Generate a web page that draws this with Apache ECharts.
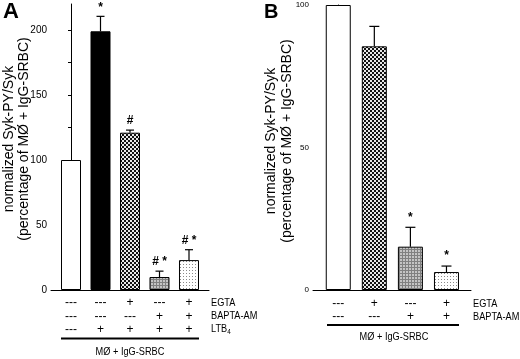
<!DOCTYPE html>
<html><head><meta charset="utf-8">
<script src="https://cdn.jsdelivr.net/npm/echarts@6/dist/echarts.min.js"></script>
<style>html,body{margin:0;padding:0;background:#fff}#c{width:520px;height:359px}</style>
</head><body><div id="c"></div>
<script>
// ---------- data ----------
const valuesA = [100, 199, 121, 10, 23];
const errorsA = [0, 11.5, 2, 4.5, 8];
const marksA  = ['', '*', '#', '# *', '# *'];
const egtaA   = ['---', '---', '+', '---', '+'];
const baptaA  = ['---', '---', '---', '+', '+'];
const ltb4A   = ['---', '+', '+', '+', '+'];

const valuesB = [100, 85.5, 15.2, 6.3];
const errorsB = [0, 7, 6.8, 2.1];
const marksB  = ['', '', '*', '*'];
const egtaB   = ['---', '+', '---', '+'];
const baptaB  = ['---', '---', '+', '+'];

const yTicksA  = [0, 25, 50, 75, 100, 125, 150, 175, 200];
const yLabelsA = [0, 50, 100, 150, 200];
const yTicksB  = [0, 25, 50, 75, 100];
const yLabelsB = [0, 50, 100];

const rowNamesA = ['EGTA', 'BAPTA-AM', 'LTB{s|4}'];
const rowNamesB = ['EGTA', 'BAPTA-AM'];
const groupLabel = 'MØ + IgG-SRBC';
const yTitle1 = 'normalized Syk-PY/Syk';
const yTitle2 = '(percentage of MØ + IgG-SRBC)';

// ---------- styles ----------
function pat(w, h, draw) {
  const c = document.createElement('canvas'); c.width = w; c.height = h;
  const g = c.getContext('2d'); draw(g); return { image: c, repeat: 'repeat' };
}
const FILL = {
  white: '#ffffff',
  black: '#000000',
  checker: pat(4, 4, g => { g.fillStyle = '#e8e8e8'; g.fillRect(0,0,4,4); g.fillStyle = '#111'; g.fillRect(0,0,2,2); g.fillRect(2,2,2,2); }),
  grid: pat(3, 3, g => { g.fillStyle = '#c4c4c4'; g.fillRect(0,0,3,3); g.fillStyle = '#808080'; g.fillRect(0,0,3,1); g.fillRect(0,0,1,3); }),
  dots: pat(3, 3, g => { g.fillStyle = '#ffffff'; g.fillRect(0,0,3,3); g.fillStyle = '#8a8a8a'; g.fillRect(0,0,1,1); })
};
const fillsA = ['white', 'black', 'checker', 'grid', 'dots'];
const fillsB = ['white', 'checker', 'grid', 'dots'];
const FONT = 'Arial, "Liberation Sans", Helvetica, sans-serif';

function barData(vals, fills) {
  return vals.map((v, i) => ({ value: [i, v], itemStyle: { color: FILL[fills[i]] } }));
}
function errSeries(idx, vals, errs, marks, cap, gap) {
  return {
    type: 'custom', xAxisIndex: idx, yAxisIndex: idx, z: 5, silent: true,
    data: vals.map((v, i) => [i, v, errs[i]]),
    renderItem(params, api) {
      const i = api.value(0), v = api.value(1), e = api.value(2);
      const p0 = api.coord([i, v]), p1 = api.coord([i, v + e]);
      const ch = [];
      if (e > 0) {
        ch.push({ type: 'line', shape: { x1: p0[0], y1: p0[1], x2: p1[0], y2: p1[1] }, style: { stroke: '#000', lineWidth: 1.2 } });
        ch.push({ type: 'line', shape: { x1: p1[0] - cap, y1: p1[1], x2: p1[0] + cap, y2: p1[1] }, style: { stroke: '#000', lineWidth: 1.2 } });
      }
      const m = marks[params.dataIndex];
      if (m) ch.push({ type: 'text', x: p1[0], y: p1[1] - gap, style: { text: m, align: 'center', verticalAlign: 'bottom', fontSize: 12, fontWeight: 'bold', fontFamily: FONT, fill: '#000' } });
      return { type: 'group', children: ch };
    }
  };
}
function tableSeries(idx, rows, rowY) {
  return {
    type: 'custom', xAxisIndex: idx, yAxisIndex: idx, silent: true, clip: false,
    data: rows[0].map((_, i) => [i, 0]),
    renderItem(params, api) {
      const x = api.coord([api.value(0), 0])[0];
      return { type: 'group', children: rows.map((r, k) => ({
        type: 'text', x: x, y: rowY[k],
        style: { text: r[params.dataIndex], align: 'center', verticalAlign: 'middle', fontSize: 12, fontFamily: FONT, fill: '#000' }
      })) };
    }
  };
}
function yAxis(idx, max, ticks, labels, fs) {
  return {
    type: 'value', gridIndex: idx, min: 0, max: max,
    axisLine: { show: true, lineStyle: { color: '#000', width: 1 } },
    axisTick: { show: true, length: 3, customValues: ticks, lineStyle: { color: '#000' } },
    axisLabel: { customValues: labels, color: '#000', fontSize: fs, fontFamily: FONT, margin: 4 },
    splitLine: { show: false }
  };
}
function xAxis(idx, min, max) {
  return {
    type: 'value', gridIndex: idx, min: min, max: max,
    axisLine: { show: true, onZero: false, lineStyle: { color: '#000', width: 1 } },
    axisTick: { show: false }, axisLabel: { show: false }, splitLine: { show: false }
  };
}
function rotText(x, y, t) {
  return { type: 'text', x: x, y: y, rotation: Math.PI / 2,
    style: { text: t, align: 'center', verticalAlign: 'middle', fontSize: 14, fontFamily: FONT, fill: '#000' } };
}
function label(x, y, t, opts) {
  return { type: 'text', x: x, y: y, scaleX: 0.8, scaleY: 1,
    style: Object.assign({ text: t, align: 'left', verticalAlign: 'middle', fontSize: 11.5, fontFamily: FONT, fill: '#000',
      rich: { s: { fontSize: 8, fontFamily: FONT, verticalAlign: 'bottom', padding: [6, 0, 0, 0] } } }, opts || {}) };
}

const chart = echarts.init(document.getElementById('c'), null, { renderer: 'canvas' });
chart.setOption({
  animation: false,
  grid: [
    { left: 51, top: 4, width: 158, height: 286 },
    { left: 313, top: 5, width: 158, height: 285 }
  ],
  xAxis: [xAxis(0, -0.678, 4.678), xAxis(1, -0.70, 3.68)],
  yAxis: [yAxis(0, 220, yTicksA, yLabelsA, 10), yAxis(1, 100, yTicksB, yLabelsB, 8)],
  series: [
    { type: 'bar', xAxisIndex: 0, yAxisIndex: 0, barWidth: 20, data: barData(valuesA, fillsA),
      itemStyle: { borderColor: '#000', borderWidth: 1 } },
    { type: 'bar', xAxisIndex: 1, yAxisIndex: 1, barWidth: 25, data: barData(valuesB, fillsB),
      itemStyle: { borderColor: '#000', borderWidth: 1 } },
    errSeries(0, valuesA, errorsA, marksA, 4, 3),
    errSeries(1, valuesB, errorsB, marksB, 5, 4),
    tableSeries(0, [egtaA, baptaA, ltb4A], [303, 317, 330]),
    tableSeries(1, [egtaB, baptaB], [304, 317])
  ],
  graphic: [
    { type: 'text', x: 3, y: 1, style: { text: 'A', fontSize: 22, fontWeight: 'bold', fontFamily: FONT, fill: '#000' } },
    { type: 'text', x: 264, y: 2, style: { text: 'B', fontSize: 20, fontWeight: 'bold', fontFamily: FONT, fill: '#000' } },
    rotText(9, 139, yTitle1), rotText(24, 139, yTitle2),
    rotText(271, 141, yTitle1), rotText(287, 141, yTitle2),
    label(211, 303, rowNamesA[0]), label(211, 316, rowNamesA[1]), label(211, 329, rowNamesA[2]),
    label(473, 304, rowNamesB[0]), label(473, 317, rowNamesB[1]),
    { type: 'line', shape: { x1: 61, y1: 338.5, x2: 199, y2: 338.5 }, style: { stroke: '#000', lineWidth: 2 } },
    { type: 'line', shape: { x1: 327, y1: 325, x2: 459, y2: 325 }, style: { stroke: '#000', lineWidth: 2 } },
    label(130, 352, groupLabel, { align: 'center' }),
    label(394, 337, groupLabel, { align: 'center' })
  ]
});
</script></body></html>
